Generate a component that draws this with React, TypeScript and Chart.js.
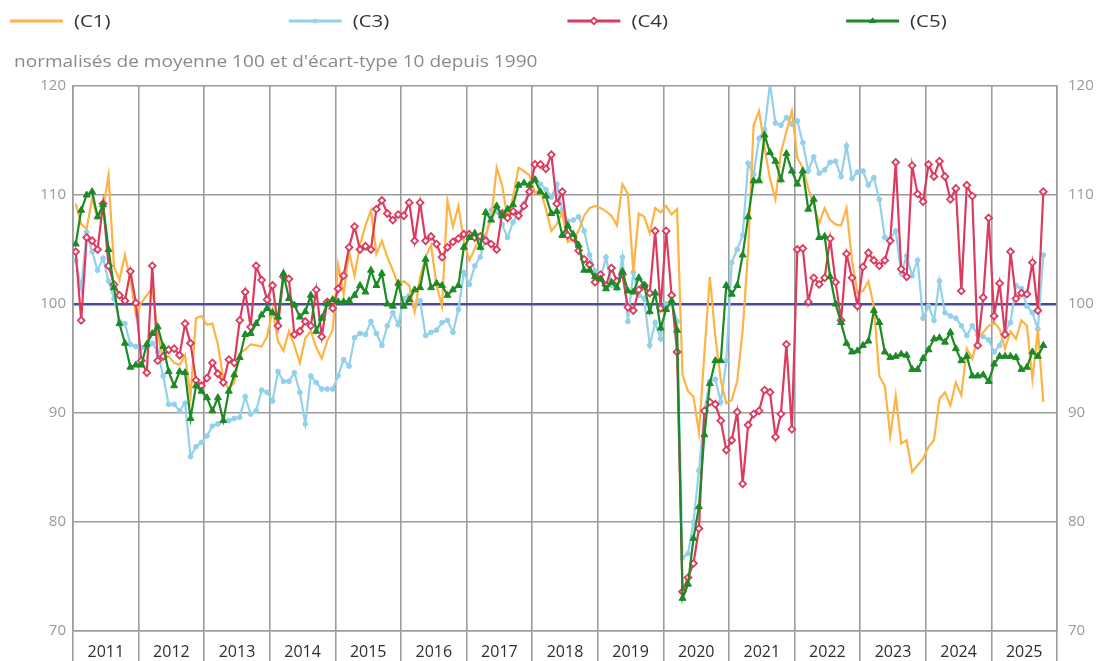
import React, { useEffect, useRef } from 'react';
import { Chart, registerables } from 'chart.js';

Chart.register(...registerables);

// ---------- data ----------
const seriesNames = ['(C1)', '(C3)', '(C4)', '(C5)'];
const yearLabels = ['2011', '2012', '2013', '2014', '2015', '2016', '2017', '2018', '2019', '2020', '2021', '2022', '2023', '2024', '2025'];
const yTicks = [70, 80, 90, 100, 110, 120];
const subtitle = "normalisés de moyenne 100 et d'écart-type 10 depuis 1990";

// monthly values, January 2011 -> October 2025
const c1 = [
  109.2, 107.3, 106.9, 109.7, 107.9, 108.7, 111.8, 103.4, 102.2, 104.5, 102.2, 99,
  100.1, 100.8, 101.5, 97.3, 94.9, 95.2, 94.6, 94.4, 95.3, 91.5, 98.7, 98.9,
  98.1, 98.2, 96.3, 93.1, 92.2, 92.8, 95.5, 95.8, 96.3, 96.2, 96.1, 97,
  99.5, 96.6, 95.7, 97.5, 96.2, 94.6, 96.9, 97.5, 96, 95, 96.6, 97.6,
  103.6, 100.9, 104.8, 102.6, 105.4, 107.2, 108.6, 104.6, 105.8, 104.3, 103.1, 101.7,
  102.1, 101.7, 99.3, 102.5, 104.3, 105.4, 101.7, 99.8, 109.5, 107.1, 109, 105.7,
  104, 105.1, 106.1, 106.4, 107.8, 112.5, 110.9, 107.8, 109.8, 112.5, 112.2, 111.8,
  110.2, 110.5, 108.7, 106.7, 107.3, 108.4, 105.7, 106, 106.7, 108.1, 108.8, 109,
  108.8, 108.5, 108.1, 107.2, 111, 110.1, 102.9, 108.3, 108, 106.5, 108.8, 108.4,
  109, 108.2, 108.7, 93.5, 92, 91.5, 88.2, 95.5, 102.5, 97, 93, 90.9,
  91.2, 92.9, 97.6, 104.9, 116.4, 117.7, 114.4, 111.5, 109.6, 113.9, 115.8, 117.7,
  113.4, 112.5, 110.6, 109.1, 107.4, 108.8, 107.7, 107.3, 107.2, 108.8, 104, 101,
  101.2, 102.1, 99.8, 93.4, 92.5, 87.9, 91.6, 87.2, 87.5, 84.6, 85.2, 85.8,
  86.9, 87.5, 91.3, 91.9, 90.7, 92.8, 91.6, 95.9, 95, 96.9, 97.4, 98,
  98.3, 97.7, 95.9, 97.5, 96.8, 98.5, 98, 93.1, 97.6, 91,
];

const c3 = [
  104, 101.4, 106.6, 104.8, 103.1, 104.2, 102.1, 100.5, 98.4, 98.2, 96.3, 96.1,
  96, 96, 96.4, 95.6, 93.4, 90.8, 90.8, 90.2, 90.9, 86, 86.9, 87.3,
  87.9, 88.8, 89, 89.3, 89.3, 89.5, 89.6, 91.5, 89.9, 90.2, 92.1, 91.9,
  91.1, 93.8, 92.9, 92.9, 93.7, 91.9, 89, 93.4, 92.8, 92.2, 92.2, 92.2,
  93.4, 94.9, 94.3, 96.9, 97.3, 97.2, 98.4, 97.3, 96.2, 98, 99.2, 98.1,
  100.5, 100.8, 99.8, 100.3, 97.1, 97.4, 97.6, 98.3, 98.5, 97.4, 99.5, 102.9,
  101.8, 103.5, 104.3, 106, 108.6, 108.5, 107.3, 106.1, 107.5, 108.3, 109.2, 110.3,
  111.5, 111, 110.5, 109.8, 111, 108.6, 107.6, 107.7, 108, 106.7, 104.5, 103,
  102.3, 104.3, 101.7, 101.4, 104.3, 98.4, 102.9, 100.8, 100.5, 96.2, 98.3, 96.8,
  100, 100.2, 98.4, 76.7, 77.1, 80, 84.7, 90.2, 92.9, 93.1, 91, 94.8,
  103.8, 105, 106.3, 112.9, 111.9, 115.2, 116, 120.2, 116.6, 116.4, 117.1, 116.5,
  116.8, 114.8, 112.2, 113.5, 112, 112.3, 113, 113.1, 111.7, 114.5, 111.5, 112.1,
  112.2, 110.9, 111.6, 109.6, 106.1, 106, 106.7, 102.8, 104.4, 102.6, 104, 98.7,
  99.8, 98.5, 102.1, 99.2, 98.9, 98.7, 98, 97.1, 98, 97.2, 97, 96.7,
  95.6, 96.2, 97.5, 98.3, 101.7, 101.4, 99.8, 99.2, 97.7, 104.5,
];

const c4 = [
  104.8, 98.5, 106.1, 105.8, 105, 109.2, 103.5, 101.8, 100.8, 100.3, 103, 100.1,
  94.8, 93.7, 103.5, 94.8, 95.2, 95.8, 95.9, 95.3, 98.2, 96.4, 93, 92.5,
  93.2, 94.6, 93.6, 92.8, 94.9, 94.6, 98.5, 101.1, 97.9, 103.5, 102.2, 100.4,
  101.7, 98, 102.5, 102.3, 97.2, 97.5, 98.4, 98, 101.3, 97, 100.2, 99.6,
  101.4, 102.6, 105.2, 107.1, 105, 105.3, 105, 108.7, 109.5, 108.3, 107.7, 108.2,
  108.1, 109.3, 105.8, 109.3, 105.8, 106.2, 105.5, 104.3, 105.2, 105.7, 106, 106.4,
  106.4, 106.1, 106.2, 105.8, 105.5, 105, 108.3, 107.9, 108.5, 108.1, 109, 110.3,
  112.8, 112.8, 112.4, 113.7, 109.2, 110.3, 106.3, 106.1, 104.9, 104.1, 103.6, 102,
  102.7, 101.7, 103.3, 102.1, 102.7, 99.7, 99.4, 101.3, 101.7, 101, 106.7, 99.6,
  106.7, 100.8, 95.6, 73.6, 74.9, 76.2, 79.4, 90.2, 91, 90.8, 89.3, 86.6,
  87.5, 90.1, 83.5, 88.9, 89.9, 90.2, 92.1, 91.9, 87.8, 89.9, 96.3, 88.5,
  105, 105.1, 100.2, 102.4, 101.8, 102.4, 106, 102, 98.5, 104.6, 102.4, 99.8,
  103.4, 104.7, 104, 103.5, 104, 105.8, 113, 103.2, 102.5, 112.7, 110.1, 109.4,
  112.8, 111.7, 113.1, 111.7, 109.6, 110.6, 101.2, 110.9, 109.9, 96.2, 100.6, 107.9,
  98.9, 101.9, 97.2, 104.8, 100.5, 101, 100.9, 103.8, 99.4, 110.3,
];

const c5 = [
  105.5, 108.6, 110, 110.3, 108, 109.1, 105, 101.5, 98.2, 96.4, 94.2, 94.4,
  94.4, 96.3, 97.3, 97.9, 96.1, 93.8, 92.5, 93.8, 93.7, 89.5, 92.5, 92,
  91.4, 90.2, 91.4, 89.3, 92, 93.5, 95.1, 97.2, 97.3, 98.2, 99, 99.6,
  99.2, 98.8, 102.8, 100.5, 99.9, 98.8, 99.3, 100.8, 97.5, 98.7, 100, 100.4,
  100.2, 100.2, 100.3, 100.8, 101.7, 101.1, 103.1, 101.7, 102.8, 100, 99.8, 101.9,
  99.8, 100.4, 101.3, 101.5, 104.1, 101.5, 101.9, 101.7, 100.8, 101.3, 101.7, 105.2,
  106.1, 106.5, 105.2, 108.4, 107.7, 109, 108.1, 108.7, 109.1, 110.9, 111.1, 110.9,
  111.4, 110.3, 109.9, 108.3, 108.5, 106.3, 107.2, 106.4, 105.4, 103.1, 103.1, 102.5,
  102.3, 101.4, 102, 101.5, 103, 101.2, 101.1, 102.4, 101.7, 99.3, 101, 97.8,
  99.5, 100.3, 97.6, 73, 74.3, 78.5, 81.4, 88, 92.7, 94.8, 94.8, 101.7,
  100.9, 101.7, 104.5, 108, 111.3, 111.3, 115.5, 113.9, 113.1, 111.4, 113.8, 112.2,
  111, 112.2, 108.7, 109.6, 106.1, 106.2, 102.5, 100, 98.3, 96.4, 95.6, 95.7,
  96.2, 96.6, 99.4, 98.3, 95.6, 95.1, 95.2, 95.4, 95.3, 94, 94, 95,
  95.8, 96.8, 96.9, 96.5, 97.4, 95.9, 94.8, 95.2, 93.4, 93.4, 93.5, 92.9,
  94.5, 95.2, 95.2, 95.2, 95.1, 94, 94.2, 95.6, 95.2, 96.2,
];

// ---------- styles ----------
const FONT = '"Open Sans", "Noto Sans", sans-serif';
const GRID = '#9c9c9c';
const COLORS = ['#FDB445', '#93D0EC', '#DC3A5E', '#1E8A25'];

const toPoints = (arr: number[]) => arr.map((v, i) => ({ x: i + 0.5, y: v }));

function drawMarker(ctx: CanvasRenderingContext2D, style: string, x: number, y: number, r: number, fill: string, stroke: string, bw: number) {
  ctx.save();
  ctx.beginPath();
  if (style === 'circle') {
    ctx.arc(x, y, r, 0, Math.PI * 2);
  } else if (style === 'rectRot') {
    ctx.moveTo(x, y - r * 1.2);
    ctx.lineTo(x + r * 1.2, y);
    ctx.lineTo(x, y + r * 1.2);
    ctx.lineTo(x - r * 1.2, y);
    ctx.closePath();
  } else if (style === 'triangle') {
    const h = r * 1.5;
    ctx.moveTo(x, y - h * 0.66);
    ctx.lineTo(x + r, y + h * 0.34);
    ctx.lineTo(x - r, y + h * 0.34);
    ctx.closePath();
  }
  ctx.fillStyle = fill;
  ctx.fill();
  ctx.lineWidth = bw;
  ctx.strokeStyle = stroke;
  ctx.stroke();
  ctx.restore();
}

function stretchedText(ctx: CanvasRenderingContext2D, text: string, x: number, y: number, sx: number) {
  ctx.save();
  ctx.translate(x, y);
  ctx.scale(sx, 1);
  ctx.fillText(text, 0, 0);
  ctx.restore();
}

const headerPlugin = {
  id: 'header',
  afterDraw(chart: any) {
    const ctx: CanvasRenderingContext2D = chart.ctx;
    ctx.save();
    chart.data.datasets.forEach((ds: any, i: number) => {
      const x0 = 10 + i * 278.7;
      const y = 21;
      ctx.beginPath();
      ctx.strokeStyle = ds.borderColor;
      ctx.lineWidth = 2.8;
      ctx.moveTo(x0, y);
      ctx.lineTo(x0 + 53, y);
      ctx.stroke();
      if (ds.pointRadius > 0) {
        drawMarker(ctx, ds.pointStyle, x0 + 26.5, y, ds.pointRadius * 0.8, ds.pointBackgroundColor, ds.borderColor, ds.pointBorderWidth || 1);
      }
      ctx.fillStyle = '#333333';
      ctx.font = `17px ${FONT}`;
      ctx.textBaseline = 'middle';
      ctx.textAlign = 'left';
      stretchedText(ctx, ds.label, x0 + 64, y + 1, 1.2);
    });
    ctx.fillStyle = '#8a8a8a';
    ctx.font = `16px ${FONT}`;
    ctx.textBaseline = 'alphabetic';
    ctx.textAlign = 'left';
    stretchedText(ctx, subtitle, 14, 67, 1.19);
    ctx.restore();
  },
};

export default function App() {
  const ref = useRef<HTMLCanvasElement | null>(null);

  useEffect(() => {
    if (!ref.current) return;
    const series = [c1, c3, c4, c5];
    const styles = [
      { pointStyle: 'circle', pointRadius: 0, order: 2, pbg: COLORS[0], pbw: 1 },
      { pointStyle: 'circle', pointRadius: 2.4, order: 3, pbg: COLORS[1], pbw: 1 },
      { pointStyle: 'rectRot', pointRadius: 3.4, order: 1, pbg: '#ffffff', pbw: 1.8 },
      { pointStyle: 'triangle', pointRadius: 4, order: 0, pbg: COLORS[3], pbw: 1 },
    ];
    const chart = new Chart(ref.current, {
      type: 'line',
      data: {
        datasets: series.map((s, i) => ({
          label: seriesNames[i],
          data: toPoints(s),
          borderColor: COLORS[i],
          backgroundColor: COLORS[i],
          borderWidth: 2.2,
          pointStyle: styles[i].pointStyle,
          pointRadius: styles[i].pointRadius,
          pointBackgroundColor: styles[i].pbg,
          pointBorderColor: COLORS[i],
          pointBorderWidth: styles[i].pbw,
          order: styles[i].order,
          tension: 0,
          fill: false,
        })) as any,
      },
      options: {
        responsive: false,
        animation: false,
        devicePixelRatio: 1,
        layout: { padding: { top: 86, left: 0, right: 0, bottom: 0 } },
        plugins: {
          legend: { display: false },
          tooltip: { enabled: false },
          title: { display: false },
        },
        scales: {
          x: {
            type: 'linear',
            min: 0,
            max: yearLabels.length * 12,
            afterBuildTicks: (scale: any) => {
              const t = [];
              for (let v = 0; v <= yearLabels.length * 12; v += 6) t.push({ value: v });
              scale.ticks = t;
            },
            afterFit: (scale: any) => { scale.height = 30; },
            ticks: {
              autoSkip: false,
              maxRotation: 0,
              minRotation: 0,
              padding: -18,
              color: '#2e2e2e',
              font: { family: FONT, size: 16 },
              callback: (value: any) => {
                const v = Number(value);
                if (v % 12 === 6) return yearLabels[(v - 6) / 12];
                return '';
              },
            },
            grid: {
              drawTicks: true,
              tickLength: 30,
              lineWidth: 1.6,
              color: (ctx: any) => (ctx.tick && ctx.tick.value % 12 === 0 ? GRID : 'rgba(0,0,0,0)'),
            },
            border: { display: true, color: GRID, width: 1.6 },
          },
          y: {
            type: 'linear',
            position: 'left',
            min: 70,
            max: 120,
            afterBuildTicks: (scale: any) => { scale.ticks = yTicks.map((v) => ({ value: v })); },
            afterFit: (scale: any) => { scale.width = 73; },
            ticks: {
              padding: 7,
              color: '#9a9a9a',
              font: { family: FONT, size: 15 },
            },
            grid: {
              drawTicks: false,
              lineWidth: (ctx: any) => (ctx.tick && ctx.tick.value === 100 ? 2.5 : 1.6),
              color: (ctx: any) => (ctx.tick && ctx.tick.value === 100 ? '#4a4aa0' : GRID),
            },
            border: { display: true, color: GRID, width: 1.6 },
          },
          y2: {
            type: 'linear',
            position: 'right',
            min: 70,
            max: 120,
            afterBuildTicks: (scale: any) => { scale.ticks = yTicks.map((v) => ({ value: v })); },
            afterFit: (scale: any) => { scale.width = 40; },
            ticks: {
              padding: 11,
              color: '#9a9a9a',
              font: { family: FONT, size: 15 },
            },
            grid: { drawOnChartArea: false, drawTicks: false },
            border: { display: true, color: GRID, width: 1.6 },
          },
        },
      } as any,
      plugins: [headerPlugin],
    });
    return () => chart.destroy();
  }, []);

  return (
    <div style={{ position: 'fixed', left: 0, top: 0, width: 1097, height: 661, background: '#ffffff' }}>
      <canvas ref={ref} width={1097} height={661} style={{ display: 'block' }} />
    </div>
  );
}
